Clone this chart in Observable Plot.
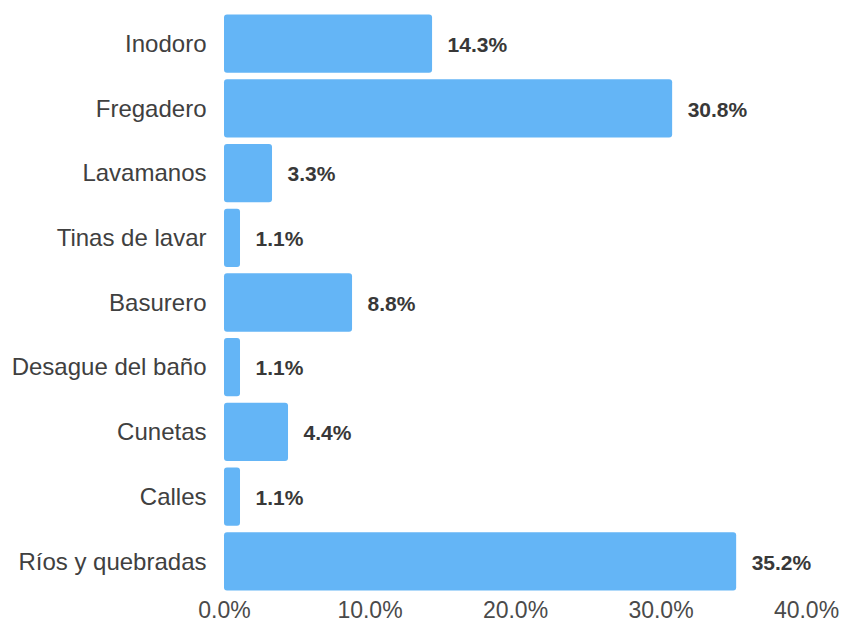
<!DOCTYPE html>
<html>
<head>
<meta charset="utf-8">
<script src="https://cdn.jsdelivr.net/npm/d3@7"></script>
<script src="https://cdn.jsdelivr.net/npm/@observablehq/plot@0.6"></script>
<style>
  html, body { margin: 0; padding: 0; background: #fff; }
  #chart svg { display: block; }
</style>
</head>
<body>
<div id="chart"></div>
<script>
const categories = ["Inodoro", "Fregadero", "Lavamanos", "Tinas de lavar", "Basurero", "Desague del baño", "Cunetas", "Calles", "Ríos y quebradas"];
const values = [14.3, 30.8, 3.3, 1.1, 8.8, 1.1, 4.4, 1.1, 35.2];
const xTicks = [0, 10, 20, 30, 40];

const data = categories.map((c, i) => ({category: c, value: values[i]}));

const chart = Plot.plot({
  width: 843,
  height: 624,
  marginLeft: 224,
  marginRight: 37,
  marginTop: 8,
  marginBottom: 27,
  style: {fontFamily: "'Liberation Sans', Arial, sans-serif", background: "#fff"},
  x: {domain: [0, 40], ticks: xTicks, tickFormat: d => d.toFixed(1) + "%", label: null},
  y: {domain: categories, padding: 0.1, round: false, label: null},
  marks: [
    Plot.barX(data, {x: "value", y: "category", fill: "#64b5f6", rx: 3}),
    Plot.text(data, {x: "value", y: "category", text: d => d.value.toFixed(1) + "%", textAnchor: "start", dx: 15, dy: 1, fontSize: 21, fontWeight: "bold", fill: "#383838"}),
    Plot.axisY({tickSize: 0, tickPadding: 18, fontSize: 24, color: "#404040", label: null}),
    Plot.axisX({ticks: xTicks, tickFormat: d => d.toFixed(1) + "%", tickSize: 0, tickPadding: 4, fontSize: 23, color: "#4a4a4a", label: null})
  ]
});
document.getElementById("chart").append(chart);
</script>
</body>
</html>
